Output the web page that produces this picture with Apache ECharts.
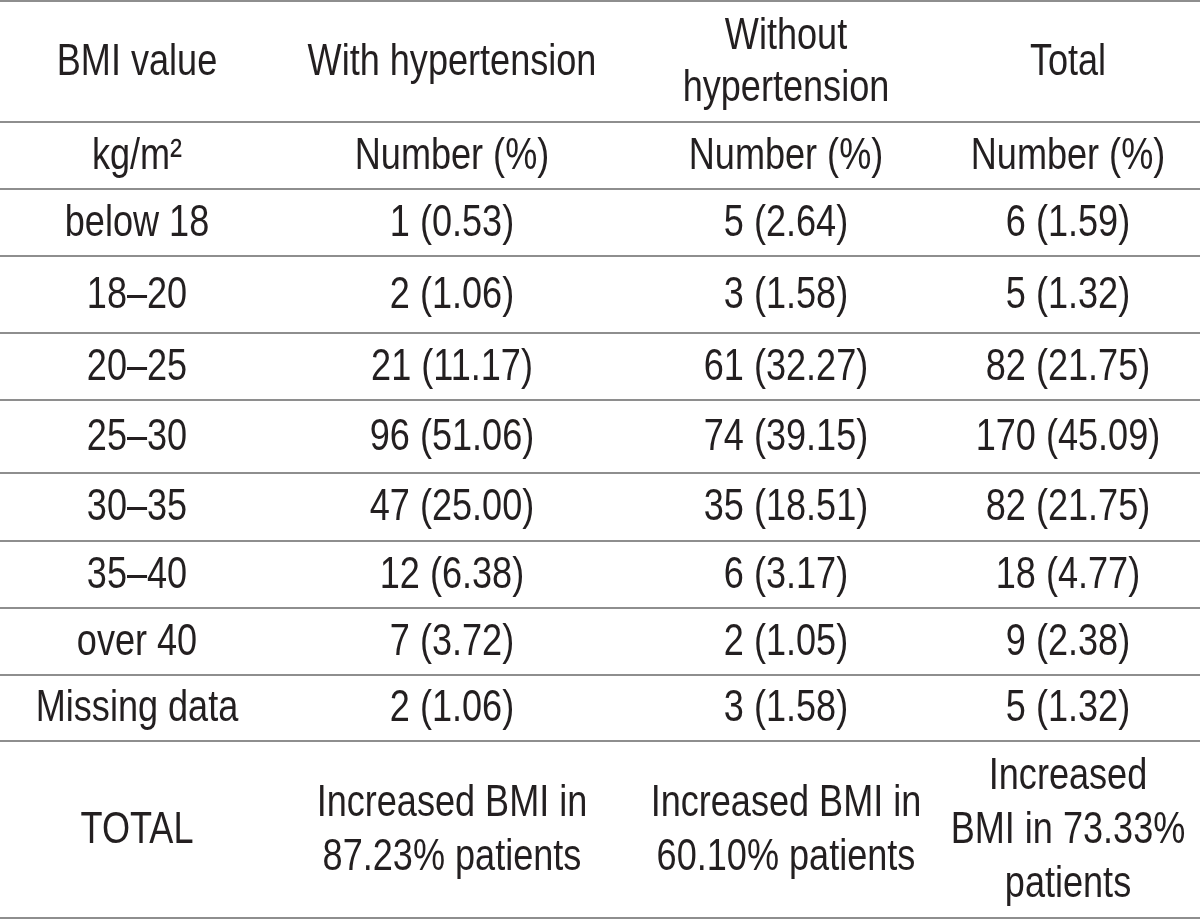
<!DOCTYPE html>
<html>
<head>
<meta charset="utf-8">
<script src="https://cdn.jsdelivr.net/npm/echarts@6/dist/echarts.min.js"></script>
<style>
  html, body { margin: 0; padding: 0; background: #ffffff; }
  #chart { width: 1200px; height: 919px; }
</style>
</head>
<body>
<div id="chart"></div>
<script>
// ---- Data ----
const headerLabels = ['BMI value', 'With hypertension', 'Without\nhypertension', 'Total'];
const subHeaderLabels = ['kg/m²', 'Number (%)', 'Number (%)', 'Number (%)'];
const bmiCategories = ['below 18', '18–20', '20–25', '25–30', '30–35', '35–40', 'over 40', 'Missing data'];
const withHTCount = [1, 2, 21, 96, 47, 12, 7, 2];
const withHTPct = ['0.53', '1.06', '11.17', '51.06', '25.00', '6.38', '3.72', '1.06'];
const withoutHTCount = [5, 3, 61, 74, 35, 6, 2, 3];
const withoutHTPct = ['2.64', '1.58', '32.27', '39.15', '18.51', '3.17', '1.05', '1.58'];
const totalCount = [6, 5, 82, 170, 82, 18, 9, 5];
const totalPct = ['1.59', '1.32', '21.75', '45.09', '21.75', '4.77', '2.38', '1.32'];
const summaryLabel = 'TOTAL';
const summaryTexts = ['Increased BMI in\n87.23% patients', 'Increased BMI in\n60.10% patients', 'Increased\nBMI in 73.33%\npatients'];

// ---- Layout (not data) ----
const colCenters = [137, 452, 786, 1068];
const rowEdges = [1, 122, 189, 256, 333, 400, 473, 541, 608, 675, 741, 918];
const FONT = '44px "Liberation Sans", sans-serif';
const SCALE_X = 0.82;
const TEXT_COLOR = '#231f20';
const RULE_COLOR = '#8e8e8e';

// Build cell table: [col, row, text]
const cells = [];
headerLabels.forEach((t, c) => cells.push([c, 0, t]));
subHeaderLabels.forEach((t, c) => cells.push([c, 1, t]));
bmiCategories.forEach((cat, i) => {
  const r = i + 2;
  cells.push([0, r, cat]);
  cells.push([1, r, withHTCount[i] + ' (' + withHTPct[i] + ')']);
  cells.push([2, r, withoutHTCount[i] + ' (' + withoutHTPct[i] + ')']);
  cells.push([3, r, totalCount[i] + ' (' + totalPct[i] + ')']);
});
const lastRow = bmiCategories.length + 2;
cells.push([0, lastRow, summaryLabel]);
summaryTexts.forEach((t, c) => cells.push([c + 1, lastRow, t]));

const rules = rowEdges.map((y, i) => [i]);

const chart = echarts.init(document.getElementById('chart'), null, { renderer: 'canvas' });
chart.setOption({
  animation: false,
  backgroundColor: '#ffffff',
  grid: { left: 0, right: 0, top: 0, bottom: 0 },
  xAxis: { type: 'value', min: 0, max: 1200, show: false },
  yAxis: { type: 'value', min: 0, max: 919, inverse: true, show: false },
  series: [
    {
      type: 'custom',
      silent: true,
      data: rules,
      renderItem: function (params, api) {
        const i = api.value(0);
        const y = rowEdges[i];
        const p1 = api.coord([0, y]);
        const p2 = api.coord([1200, y]);
        return {
          type: 'line',
          shape: { x1: p1[0], y1: p1[1], x2: p2[0], y2: p2[1] },
          style: { stroke: RULE_COLOR, lineWidth: 2 }
        };
      }
    },
    {
      type: 'custom',
      silent: true,
      data: cells,
      encode: { x: 0, y: 1 },
      renderItem: function (params, api) {
        const c = api.value(0);
        const r = api.value(1);
        const item = cells[params.dataIndex];
        const yMid = (rowEdges[r] + rowEdges[r + 1]) / 2;
        const p = api.coord([colCenters[c], yMid]);
        return {
          type: 'text',
          x: p[0],
          y: p[1] + 1,
          scaleX: SCALE_X,
          style: {
            text: item[2],
            x: 0,
            y: 0,
            align: 'center',
            verticalAlign: 'middle',
            font: FONT,
            lineHeight: r === lastRow ? 54 : 52,
            fill: TEXT_COLOR
          }
        };
      }
    }
  ]
});
</script>
</body>
</html>
